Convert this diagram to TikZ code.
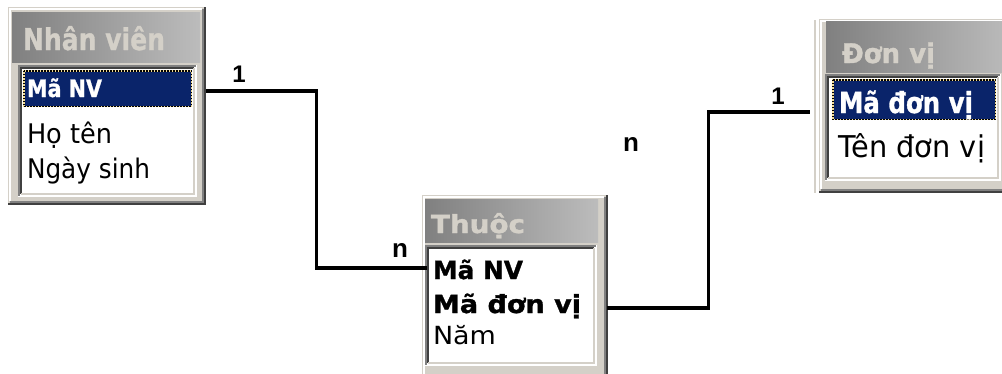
\documentclass[tikz,border=0pt]{standalone}
\usepackage{fontspec}
\usepackage{graphicx}
\newfontfamily\ms[BoldFeatures={FakeBold=1.2}]{DejaVu Sans}
\newfontfamily\lbfont{Liberation Sans}
\usetikzlibrary{calc}
\definecolor{face}{HTML}{D4D0C8}
\definecolor{shad}{HTML}{808080}
\definecolor{dark}{HTML}{404040}
\definecolor{navy}{HTML}{0A246A}
\definecolor{focus}{HTML}{F2DC96}
\definecolor{tright}{HTML}{BCBCBC}
% #1 width, #2 font size, #3 text
\newcommand\fw[3]{\resizebox{#1pt}{\height}{\fontsize{#2}{#2}\selectfont #3}}
\newcommand\raisedframe[4]{%
  \draw[white,line width=2pt] ({#1+2},{#4-4}) -- ({#1+2},{#2+2}) -- ({#3-4},{#2+2});
  \draw[shad,line width=2pt] ({#1+2},{#4-3}) -- ({#3-3},{#4-3}) -- ({#3-3},{#2+2});
  \draw[dark,line width=2pt] (#1,{#4-1}) -- ({#3-1},{#4-1}) -- ({#3-1},#2);
}
\newcommand\sunkenlist[4]{%
  \fill[white] (#1,#2) rectangle (#3,#4);
  \draw[shad,line width=2pt] ({#1+1},{#4-1}) -- ({#1+1},{#2+1}) -- ({#3-1},{#2+1});
  \draw[dark,line width=2pt] ({#1+3},{#4-3}) -- ({#1+3},{#2+3}) -- ({#3-3},{#2+3});
  \draw[face,line width=2pt] ({#1+3},{#4-3}) -- ({#3-3},{#4-3}) -- ({#3-3},{#2+3});
}
\newcommand\titlebar[4]{\fill[left color=shad,right color=tright] (#1,#2) rectangle (#3,#4);}
\newcommand\selrow[4]{%
  \fill[navy] (#1,#2) rectangle (#3,#4);
  \draw[focus,line width=1.5pt] ({#1+0.75},{#2+0.75}) rectangle ({#3-0.75},{#4-0.75});
  \draw[black,line width=1.5pt,dash pattern=on 1.5pt off 1.5pt] ({#1+0.75},{#2+0.75}) rectangle ({#3-0.75},{#4-0.75});
}
\tikzset{
  frame/.style={fill=face,draw=none,inner sep=0pt,outer sep=0pt,anchor=north west},
  field/.style={anchor=base west,inner sep=0pt,outer sep=0pt,text=black,font=\ms},
  selfield/.style={field,text=white,font=\ms\bfseries},
  keyfield/.style={field,font=\ms\bfseries},
  title/.style={field,text=face,font=\ms\bfseries},
  conn/.style={line width=3.5pt,black},
  lbl/.style={anchor=base,inner sep=0pt,outer sep=0pt,font=\lbfont\bfseries},
}
\begin{document}
\begin{tikzpicture}[x=1pt,y=-1pt]
\useasboundingbox (0,0) rectangle (1002,373);
\fill[white] (0,0) rectangle (1002,373);
\begin{scope}
\clip (0,0) rectangle (1002,373);
% ---------- Nhan vien ----------
\node[frame,minimum width=198pt,minimum height=198pt] (nv) at (8,7) {};
\raisedframe{8}{7}{206}{205}
\titlebar{12}{12}{200}{62}
\sunkenlist{18}{65}{197}{197}
\selrow{23}{70}{192}{107}
\node[title] (nvt) at (23,50) {\fw{142}{30}{Nhân viên}};
\node[selfield] (nv1) at (27,97) {\fw{75}{24}{Mã NV}};
\node[field] (nv2) at (27,143) {\fw{85}{27}{Họ tên}};
\node[field] (nv3) at (27,178) {\fw{123}{27}{Ngày sinh}};
% ---------- Thuoc ----------
\node[frame,minimum width=186pt,minimum height=190pt] (th) at (422,195) {};
\raisedframe{422}{195}{608}{385}
\titlebar{425}{199}{598}{242}
\sunkenlist{425}{245}{597}{366}
\node[title] (tht) at (431,233) {\fw{94}{25}{Thuộc}};
\node[keyfield] (th1) at (433,279) {\fw{90}{25}{Mã NV}};
\node[keyfield] (th2) at (433,313) {\fw{148}{25}{Mã đơn vị}};
\node[field] (th3) at (433,344) {\fw{63}{25}{Năm}};
% ---------- Don vi ----------
\fill[face] (814,20) rectangle (816,193);
\node[frame,minimum width=200pt,minimum height=174pt] (dv) at (819,19) {};
\raisedframe{819}{19}{1019}{193}
\titlebar{826}{21}{1012}{72}
\sunkenlist{825}{74}{1001}{181}
\selrow{832}{79}{996}{120}
\node[title] (dvt) at (842,63) {\fw{93}{27}{Đơn vị}};
\node[selfield] (dv1) at (839,113) {\fw{134}{29}{Mã đơn vị}};
\node[field] (dv2) at (838,157) {\fw{147}{30}{Tên đơn vị}};
\end{scope}
% ---------- connectors ----------
\coordinate (nvk) at (206,91);
\coordinate (thk1) at (427,268);
\coordinate (thk2) at (607,308);
\coordinate (dvk) at (810,112);
\draw[conn] (nvk) -| ($(nvk)!.5!(thk1)$) |- (thk1);
\draw[conn] (thk2) -| ($(thk2)!.5!(dvk)$) |- (dvk);
% ---------- labels ----------
\node[lbl] (l1) at (239,82) {\fontsize{24}{24}\selectfont 1};
\node[lbl] (l2) at (400,257) {\fontsize{26}{26}\selectfont n};
\node[lbl] (l3) at (631,151) {\fontsize{26}{26}\selectfont n};
\node[lbl] (l4) at (778,104) {\fontsize{24}{24}\selectfont 1};
\end{tikzpicture}
\end{document}
